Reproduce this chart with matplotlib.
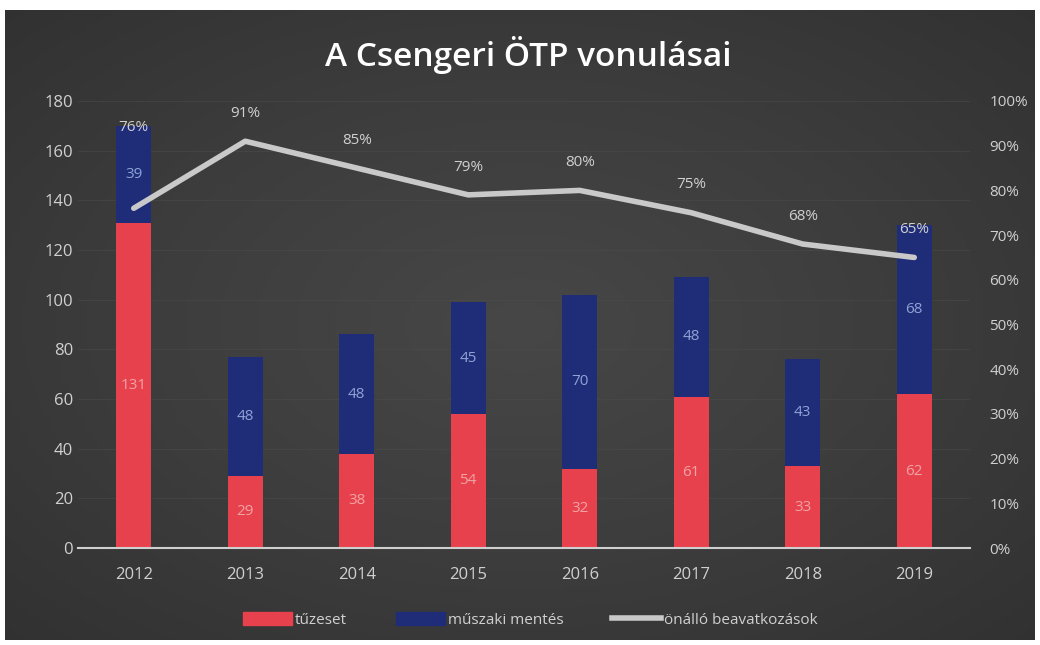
import numpy as np
import matplotlib.pyplot as plt
from matplotlib.colors import LinearSegmentedColormap
from matplotlib.patches import Patch
from matplotlib.lines import Line2D

years = ["2012", "2013", "2014", "2015", "2016", "2017", "2018", "2019"]
tuzeset = [131, 29, 38, 54, 32, 61, 33, 62]
muszaki = [39, 48, 48, 45, 70, 48, 43, 68]
onallo = [76, 91, 85, 79, 80, 75, 68, 65]

plt.rcParams["font.family"] = ["Open Sans", "DejaVu Sans"]

red = "#e8414e"
blue = "#1f2c78"
line_col = "#c9c9c9"
txt = "#d0d0d0"

fig = plt.figure(figsize=(10.4, 6.45), dpi=100, facecolor="white")

# dark background panel, slightly lighter in the middle
bg = fig.add_axes([5 / 1040, 5 / 645, 1030 / 1040, 630 / 645])
yy, xx = np.mgrid[-1:1:200j, -1:1:300j]
r = np.sqrt(xx ** 2 + yy ** 2)
cmap = LinearSegmentedColormap.from_list("bg", ["#474747", "#3d3d3d", "#313131"])
bg.imshow(r, cmap=cmap, vmin=0, vmax=1.45, aspect="auto", extent=[0, 1, 0, 1])
bg.set_axis_off()

ax = fig.add_axes([78 / 1040, 1 - 548 / 645, 892 / 1040, 447 / 645])
ax.set_facecolor("none")
x = np.arange(len(years))
w = 0.31
ax.bar(x, tuzeset, w, color=red, zorder=2)
ax.bar(x, muszaki, w, bottom=tuzeset, color=blue, zorder=2)

for i in range(len(years)):
    ax.text(x[i], tuzeset[i] / 2, str(tuzeset[i]), ha="center", va="center",
            color="#f0a3a3", fontsize=11, zorder=3)
    ax.text(x[i], tuzeset[i] + muszaki[i] / 2, str(muszaki[i]), ha="center",
            va="center", color="#8ea3d6", fontsize=11, zorder=3)

ax.set_xlim(-0.5, 7.5)
ax.set_ylim(0, 180)
ax.set_yticks(range(0, 181, 20))
ax.set_xticks(x)
ax.set_xticklabels(years)
ax.tick_params(colors=txt, labelsize=12, length=0)
ax.tick_params(axis="x", pad=14)
ax.grid(axis="y", color="#4c4c4c", linewidth=0.6, alpha=0.6, zorder=0)
for s in ["top", "right", "left"]:
    ax.spines[s].set_visible(False)
ax.spines["bottom"].set_color("#cfcfcf")
ax.spines["bottom"].set_linewidth(1.5)

ax2 = ax.twinx()
ax2.plot(x, onallo, color=line_col, linewidth=4, solid_capstyle="round", zorder=4)
ax2.set_ylim(0, 100)
ax2.set_yticks(range(0, 101, 10))
ax2.set_yticklabels([f"{v}%" for v in range(0, 101, 10)])
ax2.tick_params(colors=txt, labelsize=11, length=0, pad=14)
for s in ax2.spines.values():
    s.set_visible(False)

for i in range(len(years)):
    off = 58 if i == 0 else 20
    ax2.annotate(f"{onallo[i]}%", (x[i], onallo[i]), xytext=(0, off),
                 textcoords="offset points", ha="center", va="center",
                 color=txt, fontsize=11)

fig.text(0.508, 1 - 55 / 645, "A Csengeri ÖTP vonulásai", ha="center", va="center",
         color="white", fontsize=24, fontweight="semibold")

handles = [Patch(color=red), Patch(color=blue),
           Line2D([], [], color=line_col, linewidth=4)]
fig.legend(handles, ["tűzeset", "műszaki mentés", "önálló beavatkozások"],
           loc="center", bbox_to_anchor=(0.51, 1 - 620 / 645), ncol=3,
           frameon=False, fontsize=11, labelcolor=txt, handlelength=3.2,
           handleheight=0.9, handletextpad=0.2, columnspacing=3.2)

fig.savefig("out.png", dpi=100, facecolor="white")
